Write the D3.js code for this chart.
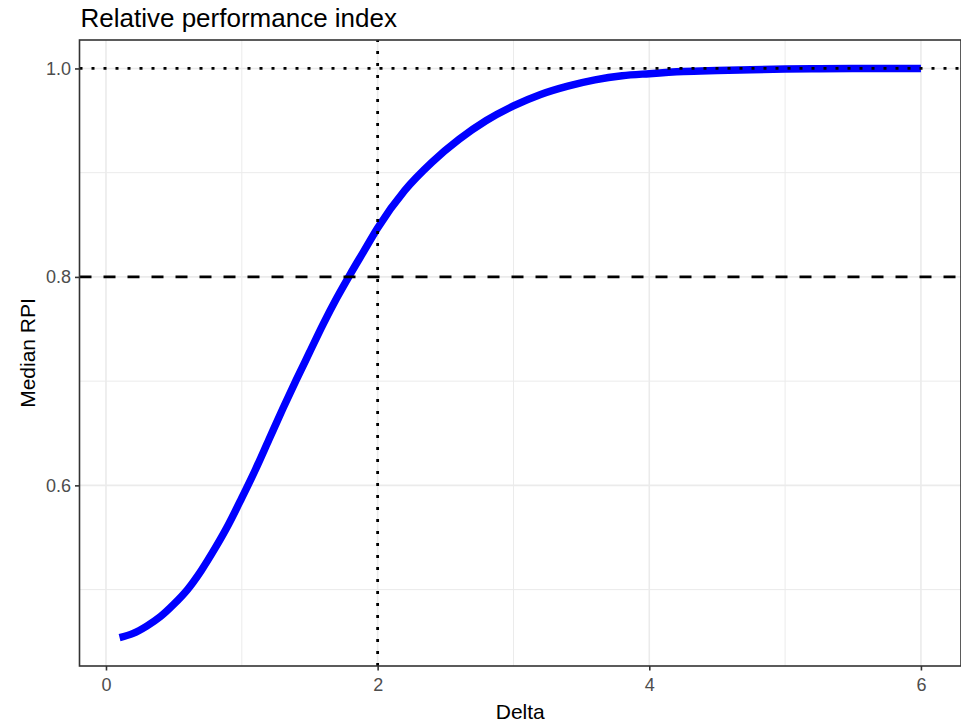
<!DOCTYPE html>
<html>
<head>
<meta charset="utf-8">
<script src="https://cdn.jsdelivr.net/npm/d3@7"></script>
<style>
  body { margin: 0; background: #fff; }
  svg text { font-family: "Liberation Sans", Arial, sans-serif; }
</style>
</head>
<body>
<div id="chart"></div>
<script>
// values
const delta = [0.1, 0.2, 0.3, 0.4, 0.5, 0.6, 0.7, 0.8, 0.9, 1.0,
  1.1, 1.2, 1.3, 1.4, 1.5, 1.6, 1.7, 1.8, 1.9, 2.0,
  2.2, 2.4, 2.6, 2.8, 3.0, 3.2, 3.4, 3.6, 3.8, 4.0,
  4.25, 4.5, 4.75, 5.0, 5.25, 5.5, 5.75, 6.0]
const rpi = [0.454, 0.458, 0.465, 0.474, 0.486, 0.500, 0.518, 0.539, 0.562, 0.588,
  0.615, 0.644, 0.673, 0.701, 0.728, 0.755, 0.780, 0.803, 0.825, 0.847,
  0.883, 0.910, 0.932, 0.950, 0.964, 0.975, 0.983, 0.989, 0.993, 0.995,
  0.997, 0.998, 0.9988, 0.9994, 0.9997, 0.9999, 1.0, 1.0]
const xTicks = [0, 2, 4, 6]
const xMinor = [1, 3, 5]
const yTicks = [0.6, 0.8, 1.0]
const yMinor = [0.5, 0.7, 0.9]
const refX = [2]
const refYDotted = [1.0]
const refYDashed = [0.8]

const width = 961, height = 724
const margin = {top: 40, right: 0, bottom: 58, left: 79.5}
const gw = width - margin.left - margin.right
const gh = height - margin.top - margin.bottom

const svg = d3.select('#chart').append('svg')
  .attr('width', width)
  .attr('height', height)

// ggplot style 5% expansion
const xr = d3.extent(delta), yr = d3.extent(rpi)
const xPad = (xr[1] - xr[0]) * 0.05, yPad = (yr[1] - yr[0]) * 0.05
const x = d3.scaleLinear().domain([xr[0] - xPad, xr[1] + xPad]).range([0, gw])
const y = d3.scaleLinear().domain([yr[0] - yPad, yr[1] + yPad]).range([gh, 0])

const g = svg.append('g').attr('transform', `translate(${margin.left},${margin.top})`)

// grid
g.selectAll('.vminor').data(xMinor).enter().append('line')
  .attr('x1', d => x(d)).attr('x2', d => x(d)).attr('y1', 0).attr('y2', gh)
  .attr('stroke', '#ebebeb').attr('stroke-width', 1)
g.selectAll('.hminor').data(yMinor).enter().append('line')
  .attr('y1', d => y(d)).attr('y2', d => y(d)).attr('x1', 0).attr('x2', gw)
  .attr('stroke', '#ebebeb').attr('stroke-width', 1)
g.selectAll('.vmajor').data(xTicks).enter().append('line')
  .attr('x1', d => x(d)).attr('x2', d => x(d)).attr('y1', 0).attr('y2', gh)
  .attr('stroke', '#ebebeb').attr('stroke-width', 1.6)
g.selectAll('.hmajor').data(yTicks).enter().append('line')
  .attr('y1', d => y(d)).attr('y2', d => y(d)).attr('x1', 0).attr('x2', gw)
  .attr('stroke', '#ebebeb').attr('stroke-width', 1.6)

// curve
const line = d3.line()
  .x((d, i) => x(delta[i]))
  .y(d => y(d))
  .curve(d3.curveMonotoneX)

g.append('path')
  .datum(rpi)
  .attr('d', line)
  .attr('fill', 'none')
  .attr('stroke', '#0000ff')
  .attr('stroke-width', 7.5)
  .attr('stroke-linejoin', 'round')

// reference lines
g.selectAll('.refx').data(refX).enter().append('line')
  .attr('x1', d => x(d)).attr('x2', d => x(d)).attr('y1', gh).attr('y2', 0)
  .attr('stroke', '#000').attr('stroke-width', 2.8).attr('stroke-dasharray', '3,9')
g.selectAll('.refy1').data(refYDotted).enter().append('line')
  .attr('y1', d => y(d)).attr('y2', d => y(d)).attr('x1', 0).attr('x2', gw)
  .attr('stroke', '#000').attr('stroke-width', 2.8).attr('stroke-dasharray', '3,9')
g.selectAll('.refy2').data(refYDashed).enter().append('line')
  .attr('y1', d => y(d)).attr('y2', d => y(d)).attr('x1', 0).attr('x2', gw)
  .attr('stroke', '#000').attr('stroke-width', 2.8).attr('stroke-dasharray', '12,12')

// panel border
g.append('rect')
  .attr('x', 0).attr('y', 0).attr('width', gw).attr('height', gh)
  .attr('fill', 'none').attr('stroke', '#333').attr('stroke-width', 1.6)

// axes
const xAxis = g.append('g').attr('transform', `translate(0,${gh})`)
  .call(d3.axisBottom(x).tickValues(xTicks).tickFormat(d3.format('d')).tickSize(4.5).tickPadding(8))
const yAxis = g.append('g')
  .call(d3.axisLeft(y).tickValues(yTicks).tickFormat(d3.format('.1f')).tickSize(4.5).tickPadding(4))
;[xAxis, yAxis].forEach(a => {
  a.select('.domain').remove()
  a.selectAll('.tick line').attr('stroke', '#333').attr('stroke-width', 1.6)
  a.selectAll('.tick text').attr('fill', '#4d4d4d').style('font-size', '18px')
})

// titles
svg.append('text')
  .attr('x', margin.left + 1).attr('y', 27)
  .style('font-size', '26px').attr('fill', '#000')
  .text('Relative performance index')

svg.append('text')
  .attr('x', margin.left + gw / 2).attr('y', 719)
  .attr('text-anchor', 'middle')
  .style('font-size', '21px').attr('fill', '#000')
  .text('Delta')

svg.append('text')
  .attr('transform', `translate(35,${margin.top + gh / 2}) rotate(-90)`)
  .attr('text-anchor', 'middle')
  .style('font-size', '21px').attr('fill', '#000')
  .text('Median RPI')
</script>
</body>
</html>
